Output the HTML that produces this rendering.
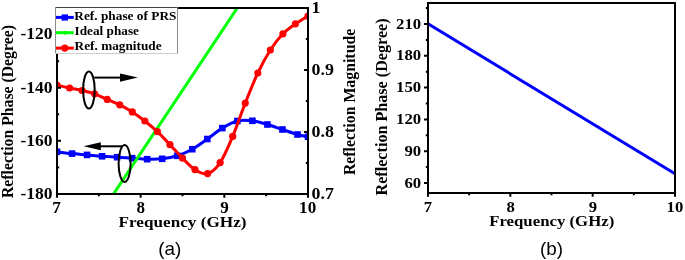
<!DOCTYPE html>
<html><head><meta charset="utf-8"><style>
html,body{margin:0;padding:0;background:#fff;}
svg{display:block;will-change:transform;}
</style></head><body>
<svg width="685" height="260" viewBox="0 0 685 260">
<rect width="685" height="260" fill="#fff"/>
<defs><clipPath id="ca"><rect x="57" y="8" width="251" height="186"/></clipPath><clipPath id="cb"><rect x="428" y="3" width="247" height="190"/></clipPath></defs>
<g clip-path="url(#ca)">
<path d="M57,151.8 C59.51,152.1 67.02,153.08 72.03,153.6 C77.04,154.12 82.05,154.45 87.06,154.9 C92.07,155.35 97.08,155.92 102.09,156.3 C107.1,156.68 112.11,156.88 117.12,157.2 C122.13,157.52 127.14,157.87 132.15,158.2 C137.16,158.53 142.17,159.1 147.18,159.2 C152.19,159.3 157.2,159.37 162.21,158.8 C167.22,158.23 172.23,157.4 177.24,155.8 C182.25,154.2 187.26,152 192.27,149.2 C197.28,146.4 202.29,142.52 207.3,139 C212.31,135.48 217.32,131.1 222.33,128.1 C227.34,125.1 232.35,122.22 237.36,121 C242.37,119.78 247.38,120.22 252.39,120.8 C257.4,121.38 262.41,123.05 267.42,124.5 C272.43,125.95 277.44,127.83 282.45,129.5 C287.46,131.17 293.22,133.28 297.48,134.5 C301.74,135.72 306.25,136.42 308,136.8" fill="none" stroke="#0000ff" stroke-width="3"/>
<rect x="53.7" y="148.5" width="6.6" height="6.6" fill="#0000ff"/>
<rect x="68.73" y="150.3" width="6.6" height="6.6" fill="#0000ff"/>
<rect x="83.76" y="151.6" width="6.6" height="6.6" fill="#0000ff"/>
<rect x="98.79" y="153" width="6.6" height="6.6" fill="#0000ff"/>
<rect x="113.82" y="153.9" width="6.6" height="6.6" fill="#0000ff"/>
<rect x="128.85" y="154.9" width="6.6" height="6.6" fill="#0000ff"/>
<rect x="143.88" y="155.9" width="6.6" height="6.6" fill="#0000ff"/>
<rect x="158.91" y="155.5" width="6.6" height="6.6" fill="#0000ff"/>
<rect x="173.94" y="152.5" width="6.6" height="6.6" fill="#0000ff"/>
<rect x="188.97" y="145.9" width="6.6" height="6.6" fill="#0000ff"/>
<rect x="204" y="135.7" width="6.6" height="6.6" fill="#0000ff"/>
<rect x="219.03" y="124.8" width="6.6" height="6.6" fill="#0000ff"/>
<rect x="234.06" y="117.7" width="6.6" height="6.6" fill="#0000ff"/>
<rect x="249.09" y="117.5" width="6.6" height="6.6" fill="#0000ff"/>
<rect x="264.12" y="121.2" width="6.6" height="6.6" fill="#0000ff"/>
<rect x="279.15" y="126.2" width="6.6" height="6.6" fill="#0000ff"/>
<rect x="294.18" y="131.2" width="6.6" height="6.6" fill="#0000ff"/>
<rect x="304.7" y="133.5" width="6.6" height="6.6" fill="#0000ff"/>
<line x1="113.5" y1="194" x2="237.3" y2="8" stroke="#00ff00" stroke-width="3"/>
<path d="M57,85.2 C59.09,85.67 65.37,87.12 69.55,88 C73.73,88.88 77.92,89.53 82.1,90.5 C86.28,91.47 90.47,92.32 94.65,93.8 C98.83,95.28 103.02,97.57 107.2,99.4 C111.38,101.23 115.57,102.72 119.75,104.8 C123.93,106.88 128.12,109.2 132.3,111.9 C136.48,114.6 140.67,117.7 144.85,121 C149.03,124.3 153.22,127.75 157.4,131.7 C161.58,135.65 165.77,140.28 169.95,144.7 C174.13,149.12 178.32,154.03 182.5,158.2 C186.68,162.37 190.87,167.13 195.05,169.7 C199.23,172.27 203.42,174.78 207.6,173.6 C211.78,172.42 215.97,168.8 220.15,162.6 C224.33,156.4 228.52,146.32 232.7,136.4 C236.88,126.48 241.07,113.67 245.25,103.1 C249.43,92.53 253.62,81.85 257.8,73 C261.98,64.15 266.17,56.53 270.35,50 C274.53,43.47 278.72,38.17 282.9,33.8 C287.08,29.43 291.27,26.77 295.45,23.8 C299.63,20.83 305.91,17.3 308,16" fill="none" stroke="#ff0000" stroke-width="3"/>
<circle cx="57" cy="85.2" r="3.6" fill="#ff0000"/>
<circle cx="69.55" cy="88" r="3.6" fill="#ff0000"/>
<circle cx="82.1" cy="90.5" r="3.6" fill="#ff0000"/>
<circle cx="94.65" cy="93.8" r="3.6" fill="#ff0000"/>
<circle cx="107.2" cy="99.4" r="3.6" fill="#ff0000"/>
<circle cx="119.75" cy="104.8" r="3.6" fill="#ff0000"/>
<circle cx="132.3" cy="111.9" r="3.6" fill="#ff0000"/>
<circle cx="144.85" cy="121" r="3.6" fill="#ff0000"/>
<circle cx="157.4" cy="131.7" r="3.6" fill="#ff0000"/>
<circle cx="169.95" cy="144.7" r="3.6" fill="#ff0000"/>
<circle cx="182.5" cy="158.2" r="3.6" fill="#ff0000"/>
<circle cx="195.05" cy="169.7" r="3.6" fill="#ff0000"/>
<circle cx="207.6" cy="173.6" r="3.6" fill="#ff0000"/>
<circle cx="220.15" cy="162.6" r="3.6" fill="#ff0000"/>
<circle cx="232.7" cy="136.4" r="3.6" fill="#ff0000"/>
<circle cx="245.25" cy="103.1" r="3.6" fill="#ff0000"/>
<circle cx="257.8" cy="73" r="3.6" fill="#ff0000"/>
<circle cx="270.35" cy="50" r="3.6" fill="#ff0000"/>
<circle cx="282.9" cy="33.8" r="3.6" fill="#ff0000"/>
<circle cx="295.45" cy="23.8" r="3.6" fill="#ff0000"/>
<circle cx="308" cy="16" r="3.6" fill="#ff0000"/>
</g>
<rect x="57" y="8" width="251" height="186" fill="none" stroke="#000" stroke-width="2"/>
<path d="M57,194 V197.7 M140.67,194 V197.7 M224.33,194 V197.7 M308,194 V197.7 M98.83,194 V196.2 M182.5,194 V196.2 M266.17,194 V196.2 M57,140.86 H61 M57,87.71 H61 M57,34.57 H61 M57,167.43 H59.2 M57,114.29 H59.2 M57,61.14 H59.2 M308,132 H304 M308,70 H304 M308,163 H305.8 M308,101 H305.8 M308,39 H305.8" stroke="#000" stroke-width="2" fill="none"/>
<ellipse cx="88.9" cy="90" rx="5.8" ry="18.5" fill="none" stroke="#000" stroke-width="2"/>
<path d="M94.2,77.6 H121" stroke="#000" stroke-width="2"/>
<polygon points="120,73.6 137.8,77.6 120,81.8" fill="#000"/>
<ellipse cx="124.6" cy="163.5" rx="6" ry="18.4" fill="none" stroke="#000" stroke-width="2"/>
<path d="M100,146.3 H122.5" stroke="#000" stroke-width="2"/>
<polygon points="100.8,142.2 83.6,146.3 100.8,150.3" fill="#000"/>
<rect x="55" y="7" width="123" height="47" fill="#fff"/>
<path d="M55,7.5 H178" stroke="#444" stroke-width="1"/>
<path d="M55.5,7 V54 M177.5,7 V54" stroke="#8a8a8a" stroke-width="1"/>
<path d="M55,53.5 H178" stroke="#ccc" stroke-width="1"/>
<path d="M56,17.4 H73.8" stroke="#0000ff" stroke-width="3"/>
<rect x="61.6" y="14.4" width="6.4" height="6.2" fill="#0000ff"/>
<path d="M56,32.7 H73.8" stroke="#00ff00" stroke-width="3"/>
<circle cx="65" cy="32.7" r="2" fill="#00ff00"/>
<path d="M56,48.1 H73.8" stroke="#ff0000" stroke-width="3"/>
<circle cx="64.8" cy="48.1" r="3.6" fill="#ff0000"/>
<text x="74.33" y="19.5" font-family="Liberation Serif" font-weight="700" font-size="11.6" textLength="102.09" lengthAdjust="spacingAndGlyphs">Ref. phase of PRS</text>
<text x="74.5" y="35.1" font-family="Liberation Serif" font-weight="700" font-size="11.6" textLength="64.49" lengthAdjust="spacingAndGlyphs">Ideal phase</text>
<text x="74.63" y="50.2" font-family="Liberation Serif" font-weight="700" font-size="11.6" textLength="87" lengthAdjust="spacingAndGlyphs">Ref. magnitude</text>
<text x="20.43" y="39.47" font-family="Liberation Serif" font-weight="700" font-size="15.8" textLength="32.15" lengthAdjust="spacingAndGlyphs">-120</text>
<text x="20.43" y="92.61" font-family="Liberation Serif" font-weight="700" font-size="15.8" textLength="32.15" lengthAdjust="spacingAndGlyphs">-140</text>
<text x="20.43" y="145.76" font-family="Liberation Serif" font-weight="700" font-size="15.8" textLength="32.15" lengthAdjust="spacingAndGlyphs">-160</text>
<text x="20.43" y="198.9" font-family="Liberation Serif" font-weight="700" font-size="15.8" textLength="32.15" lengthAdjust="spacingAndGlyphs">-180</text>
<text x="311.5" y="12.9" font-family="Liberation Serif" font-weight="700" font-size="15.8" textLength="8.93" lengthAdjust="spacingAndGlyphs">1</text>
<text x="311.5" y="74.9" font-family="Liberation Serif" font-weight="700" font-size="15.8" textLength="22.32" lengthAdjust="spacingAndGlyphs">0.9</text>
<text x="311.5" y="136.9" font-family="Liberation Serif" font-weight="700" font-size="15.8" textLength="22.32" lengthAdjust="spacingAndGlyphs">0.8</text>
<text x="311.5" y="198.9" font-family="Liberation Serif" font-weight="700" font-size="15.8" textLength="22.32" lengthAdjust="spacingAndGlyphs">0.7</text>
<text x="52.39" y="212.5" font-family="Liberation Serif" font-weight="700" font-size="15.8" textLength="8.53" lengthAdjust="spacingAndGlyphs">7</text>
<text x="136.4" y="212.5" font-family="Liberation Serif" font-weight="700" font-size="15.8" textLength="8.53" lengthAdjust="spacingAndGlyphs">8</text>
<text x="220.15" y="212.5" font-family="Liberation Serif" font-weight="700" font-size="15.8" textLength="8.53" lengthAdjust="spacingAndGlyphs">9</text>
<text x="299.13" y="212.5" font-family="Liberation Serif" font-weight="700" font-size="15.8" textLength="17.06" lengthAdjust="spacingAndGlyphs">10</text>
<text x="118.56" y="226.5" font-family="Liberation Serif" font-weight="700" font-size="15" textLength="127.97" lengthAdjust="spacingAndGlyphs">Frequency (GHz)</text>
<text transform="translate(12.7,197.7) rotate(-90) scale(1,1.05)" x="-0.32" y="0" font-family="Liberation Serif" font-weight="700" font-size="15.75" textLength="172.9" lengthAdjust="spacingAndGlyphs">Reflection Phase (Degree)</text>
<text transform="translate(355,174.8) rotate(-90) scale(1,1.05)" x="-0.32" y="0" font-family="Liberation Serif" font-weight="700" font-size="15.83" textLength="146.37" lengthAdjust="spacingAndGlyphs">Reflection Magnitude</text>
<text x="158.27" y="254.7" font-family="Liberation Sans" font-weight="400" font-size="17.7" textLength="23.11" lengthAdjust="spacingAndGlyphs">(a)</text>
<g clip-path="url(#cb)"><line x1="428" y1="23.8" x2="675" y2="173.8" stroke="#0000ff" stroke-width="3"/></g>
<rect x="428" y="3" width="247" height="190" fill="none" stroke="#000" stroke-width="2"/>
<path d="M428,193 V196.7 M510.33,193 V196.7 M592.67,193 V196.7 M675,193 V196.7 M469.17,193 V195.2 M551.5,193 V195.2 M633.83,193 V195.2 M428,24 H424 M428,55.8 H424 M428,87.6 H424 M428,119.4 H424 M428,151.2 H424 M428,183 H424 M428,8.1 H425.8 M428,39.9 H425.8 M428,71.7 H425.8 M428,103.5 H425.8 M428,135.3 H425.8 M428,167.1 H425.8" stroke="#000" stroke-width="2" fill="none"/>
<text x="396.08" y="28.6" font-family="Liberation Serif" font-weight="700" font-size="14.8" textLength="25.09" lengthAdjust="spacingAndGlyphs">210</text>
<text x="396.08" y="60.4" font-family="Liberation Serif" font-weight="700" font-size="14.8" textLength="25.09" lengthAdjust="spacingAndGlyphs">180</text>
<text x="396.08" y="92.2" font-family="Liberation Serif" font-weight="700" font-size="14.8" textLength="25.09" lengthAdjust="spacingAndGlyphs">150</text>
<text x="396.08" y="124" font-family="Liberation Serif" font-weight="700" font-size="14.8" textLength="25.09" lengthAdjust="spacingAndGlyphs">120</text>
<text x="404.44" y="155.8" font-family="Liberation Serif" font-weight="700" font-size="14.8" textLength="16.72" lengthAdjust="spacingAndGlyphs">90</text>
<text x="404.44" y="187.6" font-family="Liberation Serif" font-weight="700" font-size="14.8" textLength="16.72" lengthAdjust="spacingAndGlyphs">60</text>
<text x="423.78" y="211.8" font-family="Liberation Serif" font-weight="700" font-size="14.8" textLength="8.36" lengthAdjust="spacingAndGlyphs">7</text>
<text x="506.45" y="211.8" font-family="Liberation Serif" font-weight="700" font-size="14.8" textLength="8.36" lengthAdjust="spacingAndGlyphs">8</text>
<text x="588.87" y="211.8" font-family="Liberation Serif" font-weight="700" font-size="14.8" textLength="8.36" lengthAdjust="spacingAndGlyphs">9</text>
<text x="666.6" y="211.8" font-family="Liberation Serif" font-weight="700" font-size="14.8" textLength="16.72" lengthAdjust="spacingAndGlyphs">10</text>
<text x="489.16" y="226.3" font-family="Liberation Serif" font-weight="700" font-size="15" textLength="125.14" lengthAdjust="spacingAndGlyphs">Frequency (GHz)</text>
<text transform="translate(387,195.15) rotate(-90) scale(1,1.05)" x="-0.32" y="0" font-family="Liberation Serif" font-weight="700" font-size="16.13" textLength="177.07" lengthAdjust="spacingAndGlyphs">Reflection Phase (Degree)</text>
<text x="540.07" y="254.6" font-family="Liberation Sans" font-weight="400" font-size="17.8" textLength="23" lengthAdjust="spacingAndGlyphs">(b)</text>
</svg>
</body></html>
